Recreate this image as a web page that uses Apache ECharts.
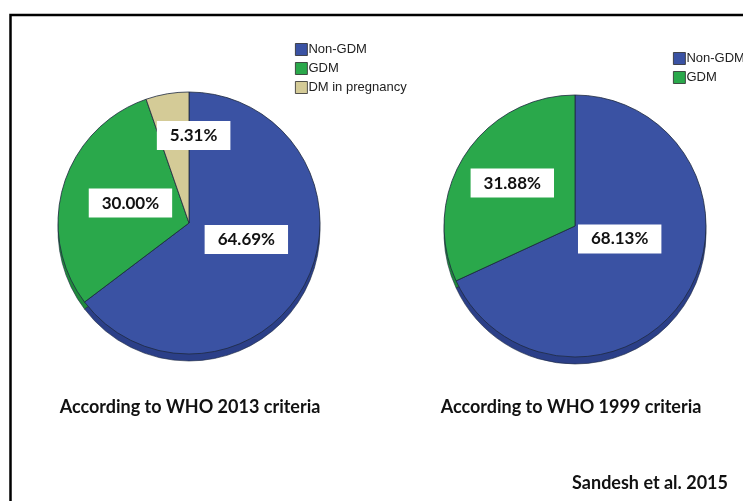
<!DOCTYPE html>
<html>
<head>
<meta charset="utf-8">
<script src="https://cdn.jsdelivr.net/npm/echarts@6/dist/echarts.min.js"></script>
<style>
  html, body { margin: 0; padding: 0; background: #fff; }
  #chart { width: 743px; height: 501px; }
</style>
</head>
<body>
<div id="chart"></div>
<script>
// Gestational diabetes prevalence under two WHO criteria
const categories2013 = ['Non-GDM', 'GDM', 'DM in pregnancy'];
const values2013 = [64.69, 30.00, 5.31];
const categories1999 = ['Non-GDM', 'GDM'];
const values1999 = [68.13, 31.88];
const chartTitles = ['According to WHO 2013 criteria', 'According to WHO 1999 criteria'];
const sourceNote = 'Sandesh et al. 2015';

const faceColors = { 'Non-GDM': '#3a52a3', 'GDM': '#2aa84b', 'DM in pregnancy': '#d4cb97' };
const sideColors = { 'Non-GDM': '#2b3f88', 'GDM': '#1f8a3b', 'DM in pregnancy': '#aba276' };

// label nudges (dx, dy) from the default inside position
const nudge2013 = [[-4, -14], [7, 0], [16, -20]];
const nudge1999 = [[-13, -24], [-5, -6]];

const labelFont = 'Lato, "Open Sans", sans-serif';
const legendFont = '"Liberation Sans Narrow", "Liberation Sans", Arial, sans-serif';

function faceData(names, vals) {
  return names.map((n, i) => ({ name: n, value: vals[i], itemStyle: { color: faceColors[n] } }));
}
function sideData(names, vals) {
  return names.map((n, i) => ({ name: n, value: vals[i], itemStyle: { color: sideColors[n] } }));
}

function facePie(names, vals, center, radius, nudges) {
  return {
    type: 'pie',
    z: 3,
    center: center,
    radius: radius,
    startAngle: 90,
    clockwise: true,
    animation: false,
    silent: true,
    itemStyle: { borderColor: '#1e2a40', borderWidth: 0.8 },
    label: {
      show: true,
      position: 'inside',
      formatter: p => p.value.toFixed(2) + '%',
      backgroundColor: '#ffffff',
      padding: [6, 13, 6, 13],
      color: '#111',
      fontFamily: labelFont,
      fontWeight: 'bold',
      fontSize: 17
    },
    labelLine: { show: false },
    labelLayout: p => ({ dx: nudges[p.dataIndex][0], dy: nudges[p.dataIndex][1] }),
    data: faceData(names, vals)
  };
}
function sidePie(names, vals, center, radius) {
  return {
    type: 'pie',
    z: 2,
    center: center,
    radius: radius,
    startAngle: 90,
    clockwise: true,
    animation: false,
    silent: true,
    itemStyle: { borderColor: '#1e2a40', borderWidth: 0.6 },
    label: { show: false },
    labelLine: { show: false },
    data: sideData(names, vals)
  };
}

const chart = echarts.init(document.getElementById('chart'), null, { renderer: 'canvas' });

const legendBase = {
  orient: 'vertical',
  padding: 0,
  itemWidth: 12,
  itemHeight: 12,
  itemGap: 6,
  icon: 'rect',
  selectedMode: false,
  itemStyle: { borderColor: '#2a2a2a', borderWidth: 0.8 },
  textStyle: { fontFamily: legendFont, fontSize: 13, color: '#222', padding: [0, 0, 0, -4] }
};

chart.setOption({
  backgroundColor: '#ffffff',
  legend: [
    Object.assign({}, legendBase, { left: 295, top: 43, data: categories2013 }),
    Object.assign({}, legendBase, { left: 673, top: 52, data: categories1999 })
  ],
  series: [
    facePie(categories2013, values2013, [189, 223], 131, nudge2013),
    facePie(categories1999, values1999, [575, 226], 131, nudge1999),
    sidePie(categories2013, values2013, [189, 230], 131),
    sidePie(categories1999, values1999, [575, 233], 131)
  ],
  graphic: [
    {
      type: 'rect',
      shape: { x: 10.5, y: 15, width: 800, height: 600 },
      style: { fill: 'none', stroke: '#000', lineWidth: 2.5 },
      silent: true
    },
    {
      type: 'text',
      x: 190, y: 407,
      style: { text: chartTitles[0], textAlign: 'center', textVerticalAlign: 'middle',
               font: 'bold 18px ' + labelFont, fill: '#111' }
    },
    {
      type: 'text',
      x: 571, y: 407,
      style: { text: chartTitles[1], textAlign: 'center', textVerticalAlign: 'middle',
               font: 'bold 18px ' + labelFont, fill: '#111' }
    },
    {
      type: 'text',
      x: 728, y: 483,
      style: { text: sourceNote, textAlign: 'right', textVerticalAlign: 'middle',
               font: 'bold 18px ' + labelFont, fill: '#111' }
    }
  ]
});
</script>
</body>
</html>
